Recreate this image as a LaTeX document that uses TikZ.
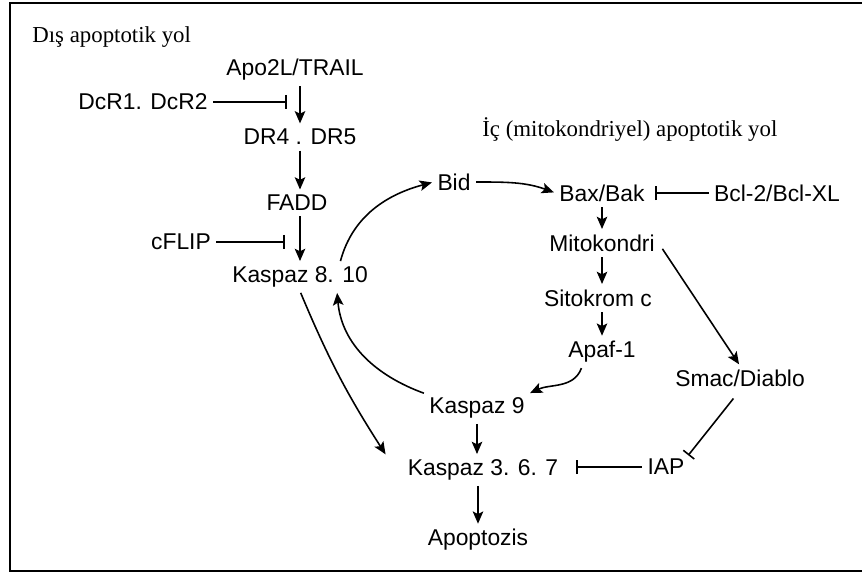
\documentclass[tikz,border=0pt]{standalone}
\usepackage{fontspec}
\setmainfont{Liberation Serif}
\setsansfont{Liberation Sans}
\usetikzlibrary{arrows.meta, calc}
\tikzset{
	lbl/.style={font=\sffamily\fontsize{13}{15}\selectfont, inner sep=2pt},
	ttl/.style={font=\rmfamily\fontsize{13}{15}\selectfont, anchor=west, inner sep=0pt},
	act/.style={line width=0.9pt, shorten <=1pt, shorten >=1pt, -{Stealth[length=7pt, width=6pt, inset=1.5pt]}},
	inh/.style={line width=0.9pt, shorten <=1pt, -{Bar[width=8pt, line width=0.9pt]}},
}

\begin{document}
\begin{tikzpicture}[x=0.02cm, y=0.02cm]
				\useasboundingbox (0,0) rectangle (862,575);
				\draw[line width=1pt] (862,572) -- (10,572) -- (10,4) -- (862,4);
				\node[ttl] (dis) at (32,538) {Dış apoptotik yol};
				\node[ttl] (ic) at (482,445) {İç (mitokondriyel) apoptotik yol};
				\node[lbl] (apo) at (295,505) {Apo2L/TRAIL};
				\node[lbl] (dcr) at (143,473) {DcR1. DcR2};
				\node[lbl] (dr) at (300,438) {DR4 . DR5};
				\node[lbl] (fadd) at (297,372) {FADD};
				\node[lbl] (cflip) at (181,333) {cFLIP};
				\node[lbl] (k8) at (300,298) {Kaspaz 8. 10};
				\node[lbl] (bid) at (454,393) {Bid};
				\node[lbl] (bax) at (602,382) {Bax/Bak};
				\node[lbl] (bcl) at (777,382) {Bcl-2/Bcl-XL};
				\node[lbl] (mito) at (602,332) {Mitokondri};
				\node[lbl] (sito) at (598,277) {Sitokrom c};
				\node[lbl] (apaf) at (602,223) {Apaf-1};
				\node[lbl] (smac) at (740,197) {Smac/Diablo};
				\node[lbl] (k9) at (477,167) {Kaspaz 9};
				\node[lbl] (k3) at (483,105) {Kaspaz 3. 6. 7};
				\node[lbl] (iap) at (666,108) {IAP};
				\node[lbl] (apop) at (478,35) {Apoptozis};
				\coordinate (dcrbar) at (287,473);
				\coordinate (cflipbar) at (285,333);
				\draw[act] (apo.south -| dr.north) -- (dr.north);
				\draw[act] (dr.south) -- (dr.south |- fadd.north);
				\draw[act] (fadd.south -| k8.north) -- (k8.north);
				\draw[act] (bax.south -| mito.north) -- (mito.north);
				\draw[act] (mito.south) -- (mito.south |- sito.north);
				\draw[act] (sito.south -| apaf.north) -- (apaf.north);
				\draw[act] (k9.south) -- (k9.south |- k3.north);
				\draw[act] (k3.south -| apop.north) -- (apop.north);
				\draw[inh] (dcr) -- (dcrbar);
				\draw[inh] (cflip) -- (cflipbar);
				\draw[inh, shorten >=4pt] (bcl.west) -- (bcl.west -| bax.east);
				\draw[inh, shorten >=8pt] (iap.west) -- (iap.west -| k3.east);
				\draw[inh, shorten <=6pt] (smac.south) -- (iap.north east);
				\draw[act] ([xshift=0.8cm]k8.north) to[out=75, in=195] (bid.west);
				\draw[act] (bid.east) to[out=0, in=160] (bax.west);
				\draw[act, shorten <=4pt] (mito.east) -- (smac.north);
				\draw[act] ([xshift=-0.4cm]apaf.south) to[out=-110, in=25] (k9.north east);
				\draw[act] (k9.north west) to[out=160, in=-85] ([xshift=0.74cm]k8.south);
				\draw[act] (k8.south) to[bend right=5] ([xshift=-0.35cm]k3.north west);
			\end{tikzpicture}
\end{document}
